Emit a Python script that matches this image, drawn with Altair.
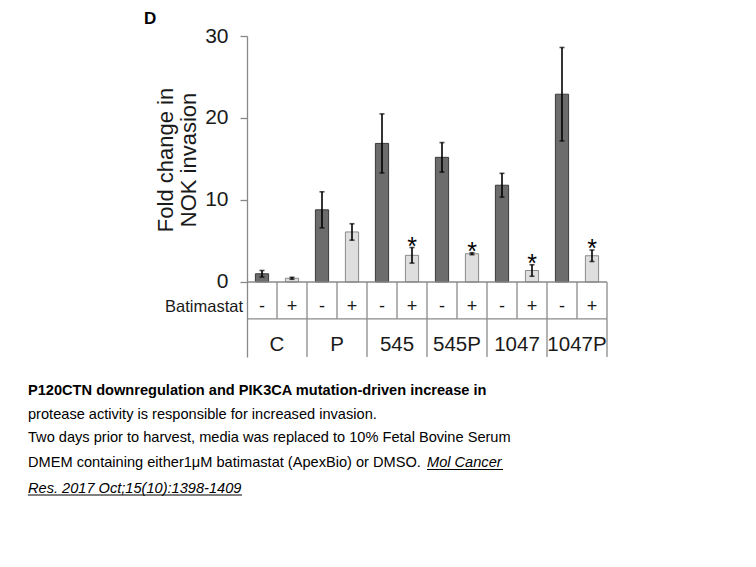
import altair as alt
import pandas as pd

# ---------------- data ----------------
groups = ["C", "P", "545", "545P", "1047", "1047P"]
treatments = ["-", "+"]
minus_means = [1.0, 8.8, 16.9, 15.2, 11.8, 22.9]
minus_errs = [0.4, 2.2, 3.6, 1.8, 1.45, 5.7]
plus_means = [0.45, 6.1, 3.25, 3.45, 1.4, 3.2]
plus_errs = [0.12, 1.0, 0.95, 0.12, 0.7, 0.7]
plus_significant = [False, False, True, True, True, True]
y_ticks = [0, 10, 20, 30]
y_title = ["Fold change in", "NOK invasion"]
row_label = "Batimastat"
panel_label = "D"
caption_bold = "P120CTN downregulation and PIK3CA mutation-driven increase in"
caption_lines = [
    "protease activity is responsible for increased invasion.",
    "Two days prior to harvest, media was replaced to 10% Fetal Bovine Serum",
    "DMEM containing either1\u03bcM batimastat (ApexBio) or DMSO.",
]
caption_italic_a = "Mol Cancer"
caption_italic_b = "Res. 2017 Oct;15(10):1398-1409"

# ---------------- layout constants (scale units) ----------------
Y_MIN, Y_MAX = -9.15, 30
ROW1_BOTTOM = -4.5
ROW1_TEXT = -3.0
ROW2_TEXT = -7.7
HALF_BAR = 0.22
N_SLOTS = 2 * len(groups)

rows = []
for gi, g in enumerate(groups):
    for ti, t in enumerate(treatments):
        mean = minus_means[gi] if ti == 0 else plus_means[gi]
        err = minus_errs[gi] if ti == 0 else plus_errs[gi]
        sig = False if ti == 0 else plus_significant[gi]
        slot = 2 * gi + ti
        c = slot + 0.5
        rows.append(dict(group=g, treat=t, mean=mean, lo=mean - err, hi=mean + err,
                         sig=sig, c=c, x0=c - HALF_BAR, x1=c + HALF_BAR, zero=0.0,
                         row1=ROW1_TEXT))
df = pd.DataFrame(rows)

xs = alt.Scale(domain=[0, N_SLOTS], nice=False, zero=False)
ys = alt.Scale(domain=[Y_MIN, Y_MAX], nice=False, zero=False)

Y_AXIS = alt.Axis(
    values=y_ticks, grid=False, domainColor="#888888", domainWidth=1.3,
    tickColor="#888888", tickSize=7, tickWidth=1.3, labelFontSize=21,
    labelColor="#1a1a1a", labelPadding=12, title=None)


def X(f):
    return alt.X(f, scale=xs, axis=None)


def Y(f):
    return alt.Y(f, scale=ys, axis=Y_AXIS)


base = alt.Chart(df)

bars = base.mark_bar(strokeWidth=1).encode(
    x=X("x0:Q"),
    x2="x1:Q",
    y=Y("mean:Q"),
    y2="zero:Q",
    color=alt.Color("treat:N", scale=alt.Scale(domain=treatments, range=["#6c6c6c", "#dedede"]), legend=None),
    stroke=alt.Stroke("treat:N", scale=alt.Scale(domain=treatments, range=["#3a3a3a", "#8a8a8a"]), legend=None),
)

err_rule = base.mark_rule(color="black", strokeWidth=1.6).encode(
    x=X("c:Q"), y=Y("lo:Q"), y2="hi:Q")
cap_lo = base.mark_tick(color="black", orient="horizontal", size=5, thickness=1.6).encode(
    x=X("c:Q"), y=Y("lo:Q"))
cap_hi = base.mark_tick(color="black", orient="horizontal", size=5, thickness=1.6).encode(
    x=X("c:Q"), y=Y("hi:Q"))

stars = base.transform_filter("datum.sig").mark_text(
    text="*", fontSize=25, baseline="alphabetic", dy=7, color="black").encode(
    x=X("c:Q"), y=Y("hi:Q"))

# ---------------- table below ----------------
hlines = pd.DataFrame({"y": [0.0, ROW1_BOTTOM], "xa": [0.0, 0.0], "xb": [float(N_SLOTS)] * 2})
h_rules = alt.Chart(hlines).mark_rule(color="#8a8a8a", strokeWidth=1.3).encode(
    x=X("xa:Q"), x2="xb:Q", y=Y("y:Q"))

v1 = pd.DataFrame({"x": [float(v) for v in range(1, N_SLOTS + 1)]})
v1["ya"] = 0.0
v1["yb"] = ROW1_BOTTOM
v2 = pd.DataFrame({"x": [float(v) for v in range(2, N_SLOTS + 1, 2)]})
v2["ya"] = ROW1_BOTTOM
v2["yb"] = Y_MIN
v_rules = alt.Chart(pd.concat([v1, v2], ignore_index=True)).mark_rule(color="#8a8a8a", strokeWidth=1.3).encode(
    x=X("x:Q"), y=Y("ya:Q"), y2="yb:Q")

signs = base.mark_text(fontSize=18, baseline="middle", color="#1a1a1a").encode(
    x=X("c:Q"), y=Y("row1:Q"), text="treat:N")

gdf = pd.DataFrame({"group": groups, "c": [2.0 * i + 1 for i in range(len(groups))]})
gdf["row2"] = ROW2_TEXT
group_text = alt.Chart(gdf).mark_text(fontSize=20.5, baseline="middle", color="#1a1a1a").encode(
    x=X("c:Q"), y=Y("row2:Q"), text="group:N")

rl = pd.DataFrame({"t": [row_label], "x": [0.0], "y": [ROW1_TEXT]})
row_lab = alt.Chart(rl).mark_text(
    fontSize=16.5, align="right", baseline="middle", dx=-4, color="#1a1a1a").encode(
    x=X("x:Q"), y=Y("y:Q"), text="t:N")

# ---------------- annotations placed in pixels ----------------
CAP_FONT = "Liberation Sans"
CAP_SIZE = 14.6
CAP_X = -219


def label(txt, x, y, align="left", color="black", **kw):
    return alt.Chart(pd.DataFrame({"t": [txt]})).mark_text(
        align=align, baseline="alphabetic", color=color, **kw).encode(
        x=alt.value(x), y=alt.value(y), text="t:N")


def uline(xa, xb, y):
    return alt.Chart(pd.DataFrame({"t": [0]})).mark_rule(color="black", strokeWidth=1).encode(
        x=alt.value(xa), x2=alt.value(xb), y=alt.value(y))


ytitle = [
    label(y_title[0], -74.5, 124, align="center", angle=270, fontSize=22, color="#1a1a1a"),
    label(y_title[1], -51.5, 124, align="center", angle=270, fontSize=22, color="#1a1a1a"),
]
panel = label(panel_label, -103, -12.5, fontSize=17, fontWeight="bold")
caps = [label(caption_bold, CAP_X, 358.5, font=CAP_FONT, fontSize=CAP_SIZE, fontWeight="bold")]
for txt, yy in zip(caption_lines, [383, 405.5, 431]):
    caps.append(label(txt, CAP_X, yy, font=CAP_FONT, fontSize=CAP_SIZE))
caps.append(label(caption_italic_a, 180, 431, font=CAP_FONT, fontSize=CAP_SIZE, fontStyle="italic"))
caps.append(label(caption_italic_b, CAP_X, 456.5, font=CAP_FONT, fontSize=CAP_SIZE, fontStyle="italic"))
caps.append(uline(180, 256, 433.5))
caps.append(uline(CAP_X, -5, 459))

chart = alt.layer(
    bars, h_rules, v_rules, err_rule, cap_lo, cap_hi, stars, signs, group_text, row_lab,
    *ytitle, panel, *caps,
).properties(
    width=360, height=321,
    autosize=alt.AutoSizeParams(type="none"),
    padding={"left": 239, "top": 28, "right": 141, "bottom": 202},
).configure(font="Liberation Sans").configure_view(stroke=None)

chart.save("out.html", embed_options={"renderer": "svg", "actions": False})
